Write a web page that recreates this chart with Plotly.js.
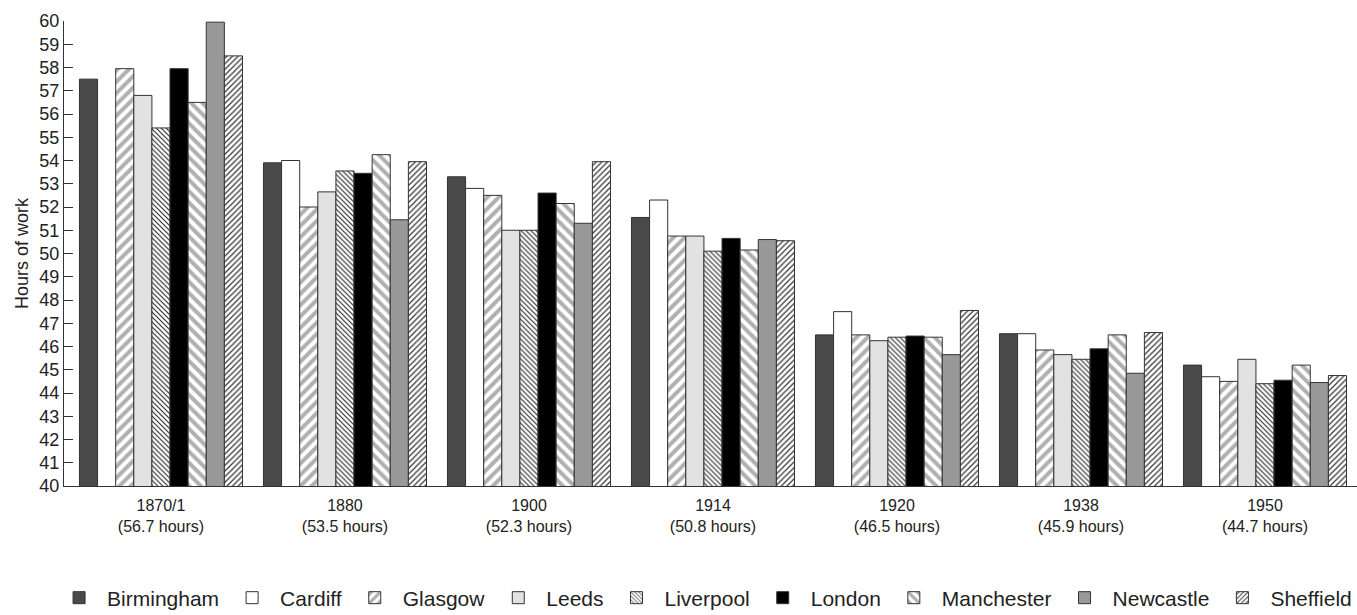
<!DOCTYPE html>
<html>
<head>
<meta charset="utf-8">
<script src="https://cdn.plot.ly/plotly-3.0.1.min.js"></script>
<style>
html,body{margin:0;padding:0;background:#fff;}
#chart{width:1357px;height:615px;}
</style>
</head>
<body>
<div id="chart"></div>
<script>
// Categories (x tick labels)
const periods = ["1870/1", "1880", "1900", "1914", "1920", "1938", "1950"];
const averages = ["56.7 hours", "53.5 hours", "52.3 hours", "50.8 hours", "46.5 hours", "45.9 hours", "44.7 hours"];

// Series values: weekly hours of work by city
const birmingham = [57.5, 53.9, 53.3, 51.55, 46.5, 46.55, 45.2];
const cardiff    = [null, 54.0, 52.8, 52.3, 47.5, 46.55, 44.7];
const glasgow    = [57.95, 52.0, 52.5, 50.75, 46.5, 45.85, 44.5];
const leeds      = [56.8, 52.65, 51.0, 50.75, 46.25, 45.65, 45.45];
const liverpool  = [55.4, 53.55, 51.0, 50.1, 46.4, 45.45, 44.4];
const london     = [57.95, 53.45, 52.6, 50.65, 46.45, 45.9, 44.55];
const manchester = [56.5, 54.25, 52.15, 50.15, 46.4, 46.5, 45.2];
const newcastle  = [59.95, 51.45, 51.3, 50.6, 45.65, 44.85, 44.45];
const sheffield  = [58.5, 53.95, 53.95, 50.55, 47.55, 46.6, 44.75];

const tickText = periods.map((p, i) => p + "<br>(" + averages[i] + ")");
const xIdx = periods.map((_, i) => i);

const edge = {color: "#333333", width: 1};

function solid(name, vals, color) {
  return {type: "bar", name: name, x: xIdx, y: vals,
          marker: {color: color, line: edge}};
}
function hatched(name, vals, shape, fg, size, solidity) {
  return {type: "bar", name: name, x: xIdx, y: vals,
          marker: {color: "#ffffff", line: edge,
                   pattern: {shape: shape, fgcolor: fg, bgcolor: "#ffffff",
                             size: size, solidity: solidity, fillmode: "replace"}}};
}

const traces = [
  solid("Birmingham", birmingham, "#4a4a4a"),
  solid("Cardiff", cardiff, "#ffffff"),
  hatched("Glasgow", glasgow, "/", "#b0b0b0", 8, 0.5),
  solid("Leeds", leeds, "#e2e2e2"),
  hatched("Liverpool", liverpool, "\\", "#222222", 3.5, 0.3),
  solid("London", london, "#000000"),
  hatched("Manchester", manchester, "\\", "#b0b0b0", 8, 0.5),
  solid("Newcastle", newcastle, "#999999"),
  hatched("Sheffield", sheffield, "/", "#333333", 4, 0.3)
];

const layout = {
  width: 1357, height: 615,
  margin: {l: 64, r: 0, t: 21, b: 129, autoexpand: false},
  paper_bgcolor: "#ffffff", plot_bgcolor: "#ffffff",
  font: {family: "Liberation Sans, Arial, sans-serif", color: "#222222", size: 17},
  barmode: "group", bargap: 0.114, bargroupgap: 0,
  showlegend: true,
  xaxis: {
    range: [-0.527, 6.5], tickmode: "array", tickvals: xIdx, ticktext: tickText,
    showgrid: false, zeroline: false, showline: true, linecolor: "#333333", linewidth: 1,
    ticks: "", tickfont: {size: 16}, ticklabelstandoff: 5, fixedrange: true
  },
  yaxis: {
    range: [40, 60], dtick: 1, tick0: 40, showgrid: false, zeroline: false,
    showline: true, linecolor: "#333333", linewidth: 1,
    ticks: "inside", ticklen: 9, tickcolor: "#333333",
    tickfont: {size: 18},
    title: {text: "Hours of work", font: {size: 18}, standoff: 6}
  },
  legend: {
    orientation: "h", x: -0.010, xanchor: "left", y: -0.285, yanchor: "bottom",
    font: {size: 21}, itemwidth: 46, traceorder: "normal"
  }
};

Plotly.newPlot("chart", traces, layout, {displayModeBar: false, staticPlot: true});
</script>
</body>
</html>
